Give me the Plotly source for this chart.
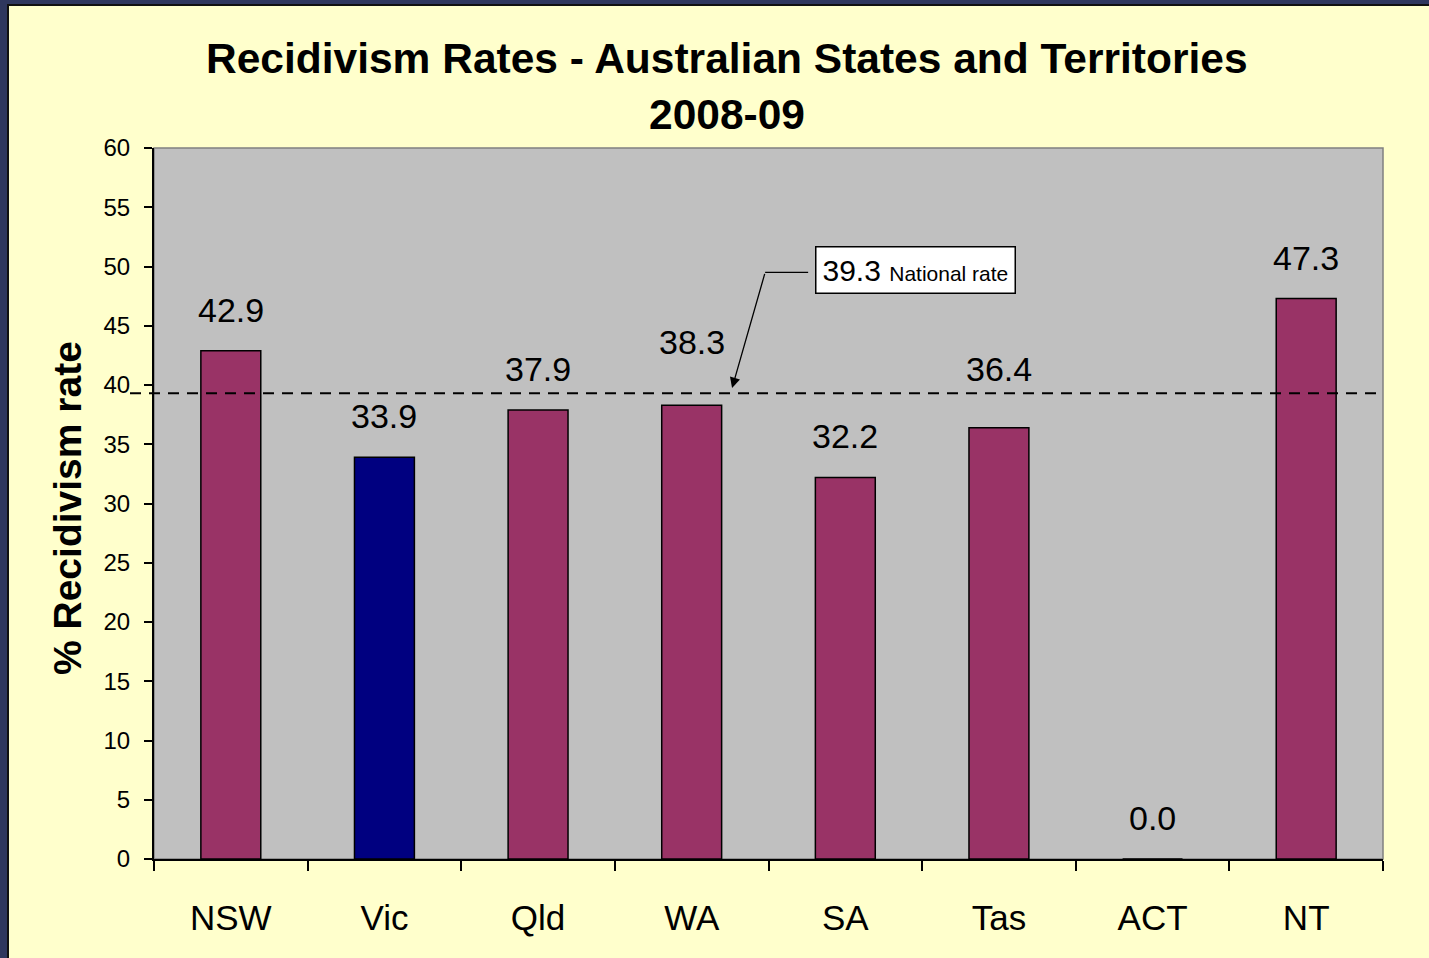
import plotly.graph_objects as go

# ---- data ----
categories = ["NSW", "Vic", "Qld", "WA", "SA", "Tas", "ACT", "NT"]
rates = [42.9, 33.9, 37.9, 38.3, 32.2, 36.4, 0.0, 47.3]
bar_colors = ["#993366", "#000080", "#993366", "#993366", "#993366", "#993366", "#993366", "#993366"]
national_rate = 39.3
national_label = "National rate"
title_line1 = "Recidivism Rates - Australian States and Territories"
title_line2 = "2008-09"
y_title = "% Recidivism rate"
y_ticks = list(range(0, 61, 5))

# label placement tweaks (pixels) so labels clear the national-rate line
label_lift = {"WA": 22, "Tas": 18}

W, H = 1429, 958
L, R, T, B = 154, 46, 148, 99
pw = W - L - R
ph = H - T - B

def px_x(px):
    return (px - L) / pw

def px_y(py):
    return (H - B - py) / ph

FONT = "Liberation Sans, Arial, sans-serif"
NARROW = "Liberation Sans Narrow, Arial Narrow, Liberation Sans, sans-serif"

fig = go.Figure()
fig.add_trace(go.Bar(
    x=categories, y=rates, width=0.39,
    marker=dict(color=bar_colors, line=dict(color="black", width=1.5)),
    hoverinfo="x+y", showlegend=False,
))

shapes = [
    # yellow chart area
    dict(type="rect", xref="paper", yref="paper", x0=px_x(8), x1=px_x(W + 10),
         y0=px_y(H + 10), y1=px_y(5), fillcolor="#FFFFCC",
         line=dict(color="#111111", width=2), layer="below"),
    # gray plot area
    dict(type="rect", xref="paper", yref="paper", x0=0, x1=1, y0=0, y1=1,
         fillcolor="#C0C0C0", line=dict(color="#808080", width=1.5), layer="below"),
    # national rate dashed line
    dict(type="line", xref="paper", yref="y", x0=px_x(130), x1=1,
         y0=national_rate, y1=national_rate,
         line=dict(color="black", width=2, dash="11px,8px"), layer="above"),
    # callout horizontal segment
    dict(type="line", xref="x", yref="y", x0=3.478, x1=3.758, y0=49.5, y1=49.5,
         line=dict(color="black", width=1.3)),
]

annotations = [
    dict(text=f"<b>{title_line1}</b>", xref="paper", yref="paper",
         x=px_x(727), y=px_y(58), xanchor="center", yanchor="middle", showarrow=False,
         font=dict(family=FONT, size=42.5, color="black")),
    dict(text=f"<b>{title_line2}</b>", xref="paper", yref="paper",
         x=px_x(727), y=px_y(114), xanchor="center", yanchor="middle", showarrow=False,
         font=dict(family=FONT, size=42.5, color="black")),
    dict(text=f"<b>{y_title}</b>", xref="paper", yref="paper", textangle=-90,
         x=px_x(67), y=px_y(508), xanchor="center", yanchor="middle", showarrow=False,
         font=dict(family=FONT, size=39, color="black")),
    # callout box
    dict(text=f"{national_rate:.1f} <span style='font-size:21px'>{national_label}</span>",
         x=4.454, y=49.7, xref="x", yref="y", showarrow=False,
         xanchor="center", yanchor="middle",
         font=dict(family=NARROW, size=30, color="black"),
         bgcolor="white", bordercolor="black", borderwidth=1.5, borderpad=6),
    # callout arrow
    dict(text="", x=3.263, y=national_rate + 0.45, xref="x", yref="y",
         ax=3.478, ay=49.5, axref="x", ayref="y", showarrow=True,
         arrowhead=2, arrowsize=1.6, arrowwidth=1.3, arrowcolor="black"),
]

for c, v in zip(categories, rates):
    annotations.append(dict(
        text=f"{v:.1f}", x=c, y=v, xref="x", yref="y", showarrow=False,
        xanchor="center", yanchor="bottom", yshift=20 + label_lift.get(c, 0),
        font=dict(family=FONT, size=34, color="black")))

fig.update_layout(
    width=W, height=H,
    margin=dict(l=L, r=R, t=T, b=B, pad=0),
    paper_bgcolor="#2F375E",
    plot_bgcolor="rgba(0,0,0,0)",
    shapes=shapes,
    annotations=annotations,
    xaxis=dict(
        type="category", showgrid=False, zeroline=False,
        showline=True, linecolor="black", linewidth=2,
        ticks="outside", ticklen=10, tickwidth=2, tickcolor="black",
        tickson="boundaries", ticklabelstandoff=27,
        tickfont=dict(family=FONT, size=35, color="black"),
        range=[-0.5, len(categories) - 0.5],
    ),
    yaxis=dict(
        range=[0, 60], tickvals=y_ticks, ticktext=[str(t) for t in y_ticks],
        showgrid=False, zeroline=False,
        showline=True, linecolor="black", linewidth=2,
        ticks="outside", ticklen=8, tickwidth=2, tickcolor="black",
        ticklabelstandoff=9,
        tickfont=dict(family=FONT, size=24, color="black"),
    ),
)

fig.write_html(
    "out.html",
    config={"displayModeBar": False},
    post_script="document.body.style.margin='0';document.body.style.background='#2F375E';",
)
